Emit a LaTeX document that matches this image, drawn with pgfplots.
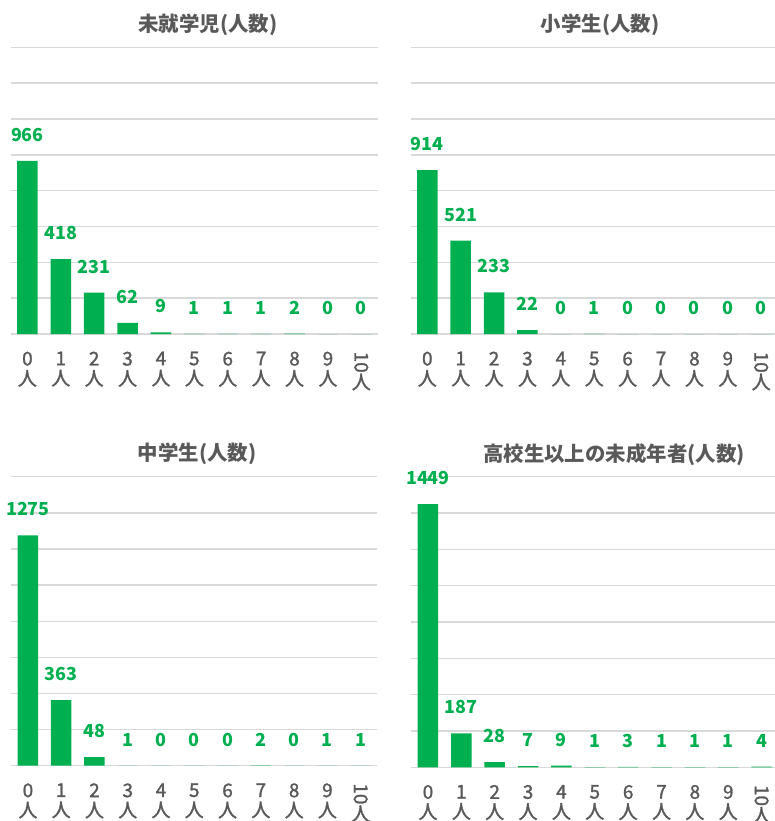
\documentclass[border=0pt]{standalone}
\usepackage{graphicx}
\usepackage{pgfplots}
\pgfplotsset{compat=1.18}
\usepackage{fontspec}
\setmainfont{Noto Sans CJK JP}
\newfontfamily\tickfont{Noto Sans CJK JP}[FakeBold=1.5]
\definecolor{barg}{HTML}{00B050}
\definecolor{txtg}{HTML}{595959}
\definecolor{gridc}{HTML}{D9D9D9}
\pgfplotsset{panel/.style={
  scale only axis, ybar, bar width=20.5bp,
  ymin=0, ymax=1600, ytick={0,200,...,1600}, yticklabels={},
  xmin=-0.5, xmax=10.5, enlargelimits=false,
  xtick={0,...,10},
  xticklabels={{0\\人},{1\\人},{2\\人},{3\\人},{4\\人},{5\\人},{6\\人},{7\\人},{8\\人},{9\\人},{\rotatebox{-90}{10}\\人}},
  ymajorgrids, grid style={gridc, line width=1.4bp},
  axis line style={draw=none}, major tick length=0pt, tick style={draw=none},
  xticklabel style={anchor=north, inner sep=0pt, yshift=-17.5bp, font=\tickfont\fontsize{19}{20}\selectfont, text=txtg, align=center},
  nodes near coords={\pgfmathprintnumber{\pgfplotspointmeta}},
  every node near coord/.append style={font=\bfseries\fontsize{18}{20}\selectfont, text=barg, anchor=south, inner sep=0pt, yshift=19bp},
  /pgf/number format/1000 sep={},
  /pgf/number format/assume math mode=true,
}}
\begin{document}
\begin{tikzpicture}
\path[use as bounding box] (0,0) rectangle (775bp,-821bp);
\tikzset{ttl/.style={font=\bfseries\fontsize{20.5}{22}\selectfont, text=txtg}}
\node[ttl] at (208bp,-25bp) {未就学児(人数)};
\node[ttl] at (600bp,-25bp) {小学生(人数)};
\node[ttl] at (197bp,-454bp) {中学生(人数)};
\node[ttl] at (614bp,-455bp) {高校生以上の未成年者(人数)};

\begin{axis}[panel, at={(10.7bp,-334bp)}, anchor=south west, width=367.3bp, height=286.7bp]
\addplot[fill=barg, draw=none] coordinates {(0,966) (1,418) (2,231) (3,62) (4,9) (5,1) (6,1) (7,1) (8,2) (9,0) (10,0)};
\end{axis}

\begin{axis}[panel, at={(410.6bp,-334bp)}, anchor=south west, width=367.3bp, height=286.7bp]
\addplot[fill=barg, draw=none] coordinates {(0,914) (1,521) (2,233) (3,22) (4,0) (5,1) (6,0) (7,0) (8,0) (9,0) (10,0)};
\end{axis}

\begin{axis}[panel, at={(11.3bp,-765.7bp)}, anchor=south west, width=366bp, height=289bp]
\addplot[fill=barg, draw=none] coordinates {(0,1275) (1,363) (2,48) (3,1) (4,0) (5,0) (6,0) (7,2) (8,0) (9,1) (10,1)};
\end{axis}

\begin{axis}[panel, at={(411.3bp,-767.3bp)}, anchor=south west, width=367bp, height=290.6bp]
\addplot[fill=barg, draw=none] coordinates {(0,1449) (1,187) (2,28) (3,7) (4,9) (5,1) (6,3) (7,1) (8,1) (9,1) (10,4)};
\end{axis}
\end{tikzpicture}
\end{document}
